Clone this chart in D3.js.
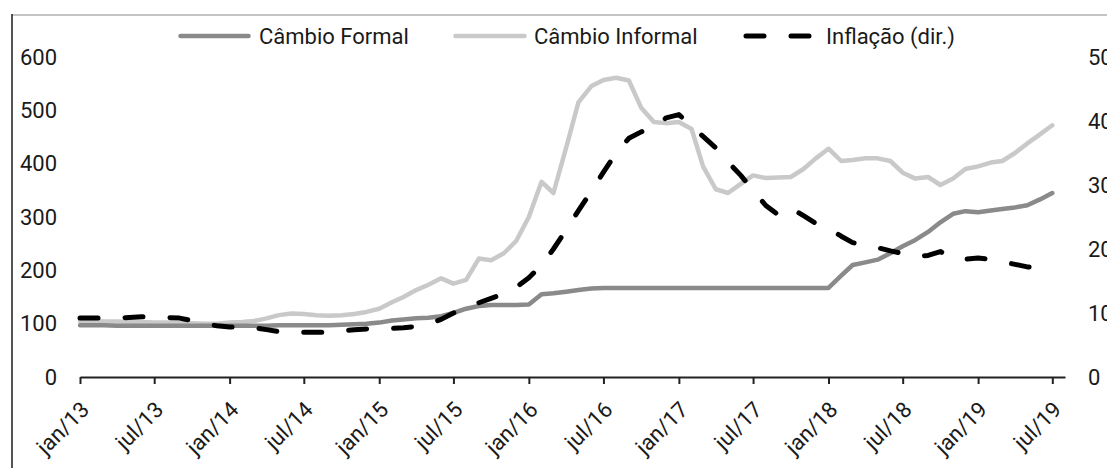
<!DOCTYPE html>
<html><head><meta charset="utf-8">
<script src="https://cdn.jsdelivr.net/npm/d3@7"></script>
<style>
body{margin:0;background:#fff}
svg{display:block}
text{font-family:Roboto,"Open Sans",sans-serif;fill:#1a1a1a}
</style>
</head><body>
<svg id="chart" width="1107" height="468"></svg>
<script>
// ---- data ----
const firstMonth = new Date(2013, 0, 1);
const lastMonth = new Date(2019, 6, 1);
const months = d3.timeMonth.range(firstMonth, d3.timeMonth.offset(lastMonth, 1));

const cambioFormal = [
  97, 97, 97, 96, 96, 96, 96, 96, 96, 96, 96, 96,
  96, 96, 96, 96, 97, 97, 97, 97, 97, 98, 99, 100,
  102, 106, 108, 110, 111, 114, 120, 128, 133, 135, 135, 135,
  136, 155, 157, 160, 163, 166,
  167, 167, 167, 167, 167, 167, 167, 167, 167, 167, 167, 167, 167, 167, 167, 167, 167, 167, 167,
  190, 210, 215, 220, 232, 245, 257, 272, 290, 306, 311, 309, 312, 315, 318, 322, 333, 345
];
const cambioInformal = [
  105, 105, 104, 104, 103, 103, 102, 102, 101, 101, 100, 100,
  102, 103, 105, 110, 116, 119, 118, 116, 115, 116, 118, 122,
  128, 140, 150, 163, 173, 185, 175, 182, 222, 219, 232, 255,
  300, 366, 345, 430, 515, 545, 557, 561, 556, 505, 478, 476,
  478, 465, 395, 352, 345, 362, 378, 373, 374, 375, 390, 410,
  428, 405, 407, 410, 410, 405, 383, 372, 375, 360, 372, 390,
  395, 402, 405, 420, 438, 455, 472
];
const inflacao = [
  9.2, 9.2, 9.2, 9.2, 9.3, 9.4, 9.4, 9.3, 9.2, 8.8, 8.3, 8.0,
  7.8, 7.8, 7.7, 7.4, 7.1, 7.0, 7.0, 7.0, 7.0, 7.2, 7.4, 7.5,
  7.6, 7.6, 7.7, 7.9, 8.3, 9.0, 10.0, 10.8, 11.6, 12.3, 13.0, 14.0,
  15.5, 17.5, 20.0, 23.0, 26.0, 29.0, 32.0, 35.0, 37.3, 38.3, 39.0, 40.5,
  41.0, 39.2, 37.6, 35.8, 33.6, 31.5, 29.2, 26.8, 25.3, 26.4, 25.2, 24.0,
  23.2, 22.0, 21.0, 20.6, 20.2, 19.7, 19.3, 18.8, 19.0, 19.6, 18.5, 18.4,
  18.6, 18.4, 18.0, 17.6, 17.2, 17.0, 17.3
];
const leftTicks = [0, 100, 200, 300, 400, 500, 600];
const rightTicks = [0, 10, 20, 30, 40, 50];
const monthAbbr = {0: "jan", 6: "jul"};
const seriesNames = ["Câmbio Formal", "Câmbio Informal", "Inflação (dir.)"];

// ---- drawing ----
const FS = "22px";
const svg = d3.select("#chart");
const axisEnd = d3.timeMonth.offset(lastMonth, 1);
const x = d3.scaleTime().domain([firstMonth, axisEnd]).range([80, 1065]);
const yL = d3.scaleLinear().domain([0, 600]).range([377, 57]);
const yR = d3.scaleLinear().domain([0, 50]).range([377, 57]);

// frame fragments
svg.append("line").attr("x1", 12).attr("x2", 1107).attr("y1", 15).attr("y2", 15)
  .attr("stroke", "#c4c4c4").attr("stroke-width", 2);
svg.append("line").attr("x1", 12).attr("x2", 12).attr("y1", 14).attr("y2", 468)
  .attr("stroke", "#2a2a2a").attr("stroke-width", 1.6);

// x axis
const xTickVals = d3.timeMonth.every(6).range(firstMonth, axisEnd);
const xAxis = d3.axisBottom(x).tickValues(xTickVals).tickSize(7).tickSizeOuter(0)
  .tickFormat(d => monthAbbr[d.getMonth()] + "/" + String(d.getFullYear()).slice(2));
const gx = svg.append("g").attr("transform", "translate(0,377)").call(xAxis);
gx.select(".domain").attr("stroke", "#222").attr("stroke-width", 2);
gx.selectAll(".tick line").attr("stroke", "#222").attr("stroke-width", 2);
gx.selectAll(".tick text")
  .attr("x", 0).attr("y", 0).attr("dy", 0)
  .attr("text-anchor", "end")
  .attr("transform", "translate(10,34) rotate(-45)")
  .style("font-size", FS).style("font-family", "Roboto, 'Open Sans', sans-serif").attr("fill", "#1a1a1a");

// left labels
svg.append("g").selectAll("text").data(leftTicks).join("text")
  .attr("x", 57).attr("y", d => yL(d)).attr("dy", "0.35em")
  .attr("text-anchor", "end").style("font-size", FS).text(d => d);
// right labels
svg.append("g").selectAll("text").data(rightTicks).join("text")
  .attr("x", 1088).attr("y", d => yR(d)).attr("dy", "0.35em")
  .attr("text-anchor", "start").style("font-size", FS).text(d => d);

const lineL = d3.line().x((d, i) => x(months[i])).y(d => yL(d));
const lineR = d3.line().x((d, i) => x(months[i])).y(d => yR(d));

const styles = [
  {stroke: "#8a8a8a", dash: null},
  {stroke: "#c9c9c9", dash: null},
  {stroke: "#000", dash: "18,27"}
];

svg.append("path").datum(cambioInformal).attr("d", lineL)
  .attr("fill", "none").attr("stroke", styles[1].stroke).attr("stroke-width", 4.5)
  .attr("stroke-linejoin", "round").attr("stroke-linecap", "round");
svg.append("path").datum(cambioFormal).attr("d", lineL)
  .attr("fill", "none").attr("stroke", styles[0].stroke).attr("stroke-width", 4.5)
  .attr("stroke-linejoin", "round").attr("stroke-linecap", "round");
svg.append("path").datum(inflacao).attr("d", lineR)
  .attr("fill", "none").attr("stroke", styles[2].stroke).attr("stroke-width", 5)
  .attr("stroke-dasharray", styles[2].dash)
  .attr("stroke-linejoin", "round").attr("stroke-linecap", "round");

// legend
const legendItems = [
  {x1: 180.5, x2: 248.5, tx: 259},
  {x1: 455.5, x2: 524.5, tx: 534},
  {x1: 746, x2: 812, tx: 826}
];
const lg = svg.append("g");
legendItems.forEach((it, i) => {
  lg.append("line").attr("x1", it.x1).attr("x2", it.x2).attr("y1", 36).attr("y2", 36)
    .attr("stroke", styles[i].stroke).attr("stroke-width", i === 2 ? 5 : 4.5)
    .attr("stroke-linecap", "round")
    .attr("stroke-dasharray", styles[i].dash);
  lg.append("text").attr("x", it.tx).attr("y", 36).attr("dy", "0.35em")
    .style("font-size", FS).text(seriesNames[i]);
});
</script>
</body></html>
